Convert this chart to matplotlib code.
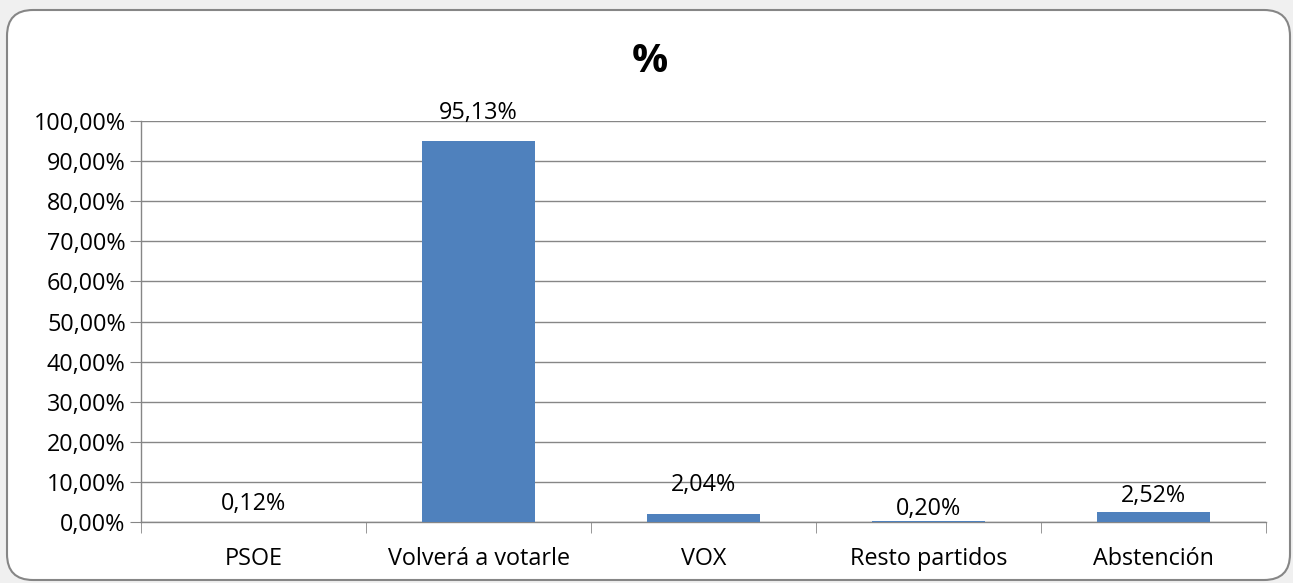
import matplotlib.pyplot as plt
import numpy as np
from matplotlib.patches import FancyBboxPatch

categories = ['PSOE', 'Volverá a votarle', 'VOX', 'Resto partidos', 'Abstención']
values = [0.12, 95.13, 2.04, 0.20, 2.52]
value_labels = ['0,12%', '95,13%', '2,04%', '0,20%', '2,52%']
yticks = np.arange(0, 101, 10)
ytick_labels = ['%d,00%%' % t for t in yticks]
# vertical distance of each label centre above its bar top, in points
label_offsets = [12.6, 20, 21, 8.6, 11.5]

plt.rcParams['font.family'] = ['Open Sans', 'DejaVu Sans']

W, H = 1293, 583
fig = plt.figure(figsize=(W / 100, H / 100), dpi=100)
fig.patch.set_facecolor('#f0f0f0')

# background axes in pixel units for the rounded white panel
bg = fig.add_axes([0, 0, 1, 1], zorder=-1)
bg.set_xlim(0, W)
bg.set_ylim(H, 0)
bg.axis('off')
bg.add_patch(FancyBboxPatch((7, 10), 1283, 570,
                            boxstyle='round,pad=0,rounding_size=26',
                            facecolor='white', edgecolor='#868686', linewidth=1.5))

ax = fig.add_axes([141 / W, (H - 522) / H, 1125 / W, 401 / H], zorder=1)
ax.set_facecolor('none')
x = np.arange(len(categories))
ax.bar(x, values, width=0.5, color='#4f81bd', zorder=3)

fs = 16.8
ax.set_xlim(-0.5, len(categories) - 0.5)
ax.set_ylim(0, 100)
ax.set_yticks(yticks)
ax.set_yticklabels(ytick_labels, fontsize=fs)
ax.set_xticks(x)
ax.set_xticklabels(categories, fontsize=fs)
ax.tick_params(axis='x', length=0, pad=18)
ax.set_xticks(np.arange(-0.5, len(categories)), minor=True)
ax.tick_params(axis='x', which='minor', length=8, color='#868686', direction='out')
ax.tick_params(axis='y', length=8, color='#868686', direction='out', pad=3)

ax.grid(axis='y', color='#868686', linewidth=1, zorder=0)
for s in ['top', 'right']:
    ax.spines[s].set_visible(False)
for s in ['left', 'bottom']:
    ax.spines[s].set_color('#868686')
    ax.spines[s].set_linewidth(1)

for xi, v, lab, off in zip(x, values, value_labels, label_offsets):
    ax.annotate(lab, (xi, v), xytext=(0, off), textcoords='offset points',
                ha='center', va='center', fontsize=fs, zorder=4)

fig.text(650 / W, (H - 61) / H, '%', ha='center', va='center',
         fontsize=29, fontweight='bold')

fig.savefig('out.png', dpi=100, facecolor=fig.get_facecolor())
